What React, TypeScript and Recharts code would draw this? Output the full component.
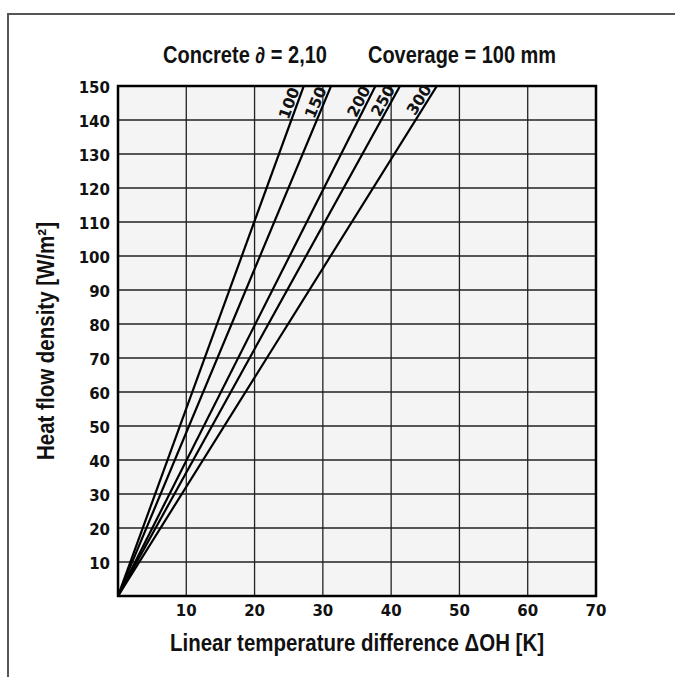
import { LineChart, Line, XAxis, YAxis, CartesianGrid, ReferenceArea, LabelList } from "recharts";

// pipe spacing [mm] and the temperature difference where each line reaches 150 W/m²
const SPACING_LABELS = ["100", "150", "200", "250", "300"];
const DT_AT_TOP = [27.2, 31.2, 37.7, 41.3, 46.7];
const Q_TOP = 150;

const X_TICKS = [10, 20, 30, 40, 50, 60, 70];
const Y_TICKS = [10, 20, 30, 40, 50, 60, 70, 80, 90, 100, 110, 120, 130, 140, 150];

const W = 675;
const H = 677;
const PLOT_LEFT = 118;
const PLOT_TOP = 86;
const PLOT_RIGHT = 596;
const PLOT_BOTTOM = 596;
const PLOT_W = PLOT_RIGHT - PLOT_LEFT;
const PLOT_H = PLOT_BOTTOM - PLOT_TOP;

const TICK_FONT = "'DejaVu Sans', Lato, sans-serif";
const TITLE_FONT = "'Liberation Sans', Arial, sans-serif";

const series = SPACING_LABELS.map((name, i) => ({
  name,
  data: [
    { dt: 0, q: 0 },
    { dt: DT_AT_TOP[i], q: Q_TOP },
  ],
}));

function XTick(props: any) {
  const { x, y, payload } = props;
  return (
    <text x={x} y={y + 1} dy="0.71em" textAnchor="middle" fontFamily={TICK_FONT} fontWeight={700} fontSize={15} fill="#111">
      {payload.value}
    </text>
  );
}

function YTick(props: any) {
  const { x, y, payload } = props;
  return (
    <text x={x} y={y + 2} dy="0.36em" textAnchor="end" fontFamily={TICK_FONT} fontWeight={700} fontSize={15} fill="#111">
      {payload.value}
    </text>
  );
}

function spacingLabel(name: string, dt: number) {
  const theta = Math.atan2(PLOT_H, (dt / 70) * PLOT_W);
  const deg = (theta * 180) / Math.PI;
  return (props: any) => {
    if (props.index !== 1) return null;
    const px = props.x ?? props.viewBox?.x;
    const py = props.y ?? props.viewBox?.y;
    const along = 5;
    const gap = 2.5;
    const ax = px - along * Math.cos(theta) - gap * Math.sin(theta);
    const ay = py + along * Math.sin(theta) - gap * Math.cos(theta);
    return (
      <text
        x={ax}
        y={ay}
        textAnchor="end"
        transform={`rotate(${-deg}, ${ax}, ${ay})`}
        fontFamily={TICK_FONT}
        fontWeight={700}
        fontSize={15.5}
        fill="#111"
      >
        {name}
      </text>
    );
  };
}

export default function App() {
  return (
    <div style={{ position: "absolute", left: 0, top: 0, width: W, height: H, background: "#fff" }}>
      <div
        style={{
          position: "absolute",
          left: 7,
          top: 13,
          width: W - 7,
          height: H - 13,
          borderTop: "2px solid #555",
          borderLeft: "2px solid #555",
          boxSizing: "border-box",
        }}
      />
      <svg width={W} height={80} style={{ position: "absolute", left: 0, top: 0 }}>
        <text x={163} y={63} textLength={164} lengthAdjust="spacingAndGlyphs" fontFamily={TITLE_FONT} fontWeight={700} fontSize={23} fill="#111">
          Concrete ∂ = 2,10
        </text>
        <text x={368} y={63} textLength={188} lengthAdjust="spacingAndGlyphs" fontFamily={TITLE_FONT} fontWeight={700} fontSize={23} fill="#111">
          Coverage = 100 mm
        </text>
      </svg>
      <div style={{ position: "absolute", left: 0, top: 0 }}>
        <LineChart
          width={W}
          height={H}
          margin={{ top: PLOT_TOP, right: W - PLOT_RIGHT, bottom: 0, left: 0 }}
        >
          <CartesianGrid stroke="#222" strokeWidth={1.3} fill="#f4f4f4" fillOpacity={1} />
          <XAxis
            type="number"
            dataKey="dt"
            domain={[0, 70]}
            ticks={X_TICKS}
            allowDataOverflow
            height={H - PLOT_BOTTOM}
            axisLine={false}
            tickLine={false}
            tickSize={6}
            tickMargin={2}
            tick={<XTick />}
            label={(props: any) => {
              const vb = props.viewBox || { x: PLOT_LEFT, y: PLOT_BOTTOM, width: PLOT_W };
              return (
                <text
                  x={170}
                  y={vb.y + 55}
                  textLength={374}
                  lengthAdjust="spacingAndGlyphs"
                  fontFamily={TITLE_FONT}
                  fontWeight={700}
                  fontSize={23}
                  fill="#111"
                >
                  Linear temperature difference ΔOH [K]
                </text>
              );
            }}
          />
          <YAxis
            type="number"
            dataKey="q"
            domain={[0, 150]}
            ticks={Y_TICKS}
            allowDataOverflow
            width={PLOT_LEFT}
            axisLine={false}
            tickLine={false}
            tickSize={6}
            tickMargin={2}
            tick={<YTick />}
            label={(props: any) => {
              const vb = props.viewBox || { x: 0, y: PLOT_TOP, height: PLOT_H };
              const bx = 54;
              const by = vb.y + vb.height / 2 + 119;
              return (
                <text
                  x={bx}
                  y={by}
                  textLength={238}
                  lengthAdjust="spacingAndGlyphs"
                  transform={`rotate(-90, ${bx}, ${by})`}
                  fontFamily={TITLE_FONT}
                  fontWeight={700}
                  fontSize={23}
                  fill="#111"
                >
                  Heat flow density [W/m²]
                </text>
              );
            }}
          />
          <ReferenceArea
            x1={0}
            x2={70}
            y1={0}
            y2={150}
            fill="none"
            stroke="#000"
            strokeWidth={2.5}
            ifOverflow="visible"
          />
          {series.map((s, i) => (
            <Line
              key={s.name}
              data={s.data}
              dataKey="q"
              type="linear"
              stroke="#000"
              strokeWidth={2.2}
              dot={false}
              activeDot={false}
              isAnimationActive={false}
            >
              <LabelList dataKey="q" content={spacingLabel(s.name, DT_AT_TOP[i])} />
            </Line>
          ))}
        </LineChart>
      </div>
    </div>
  );
}
